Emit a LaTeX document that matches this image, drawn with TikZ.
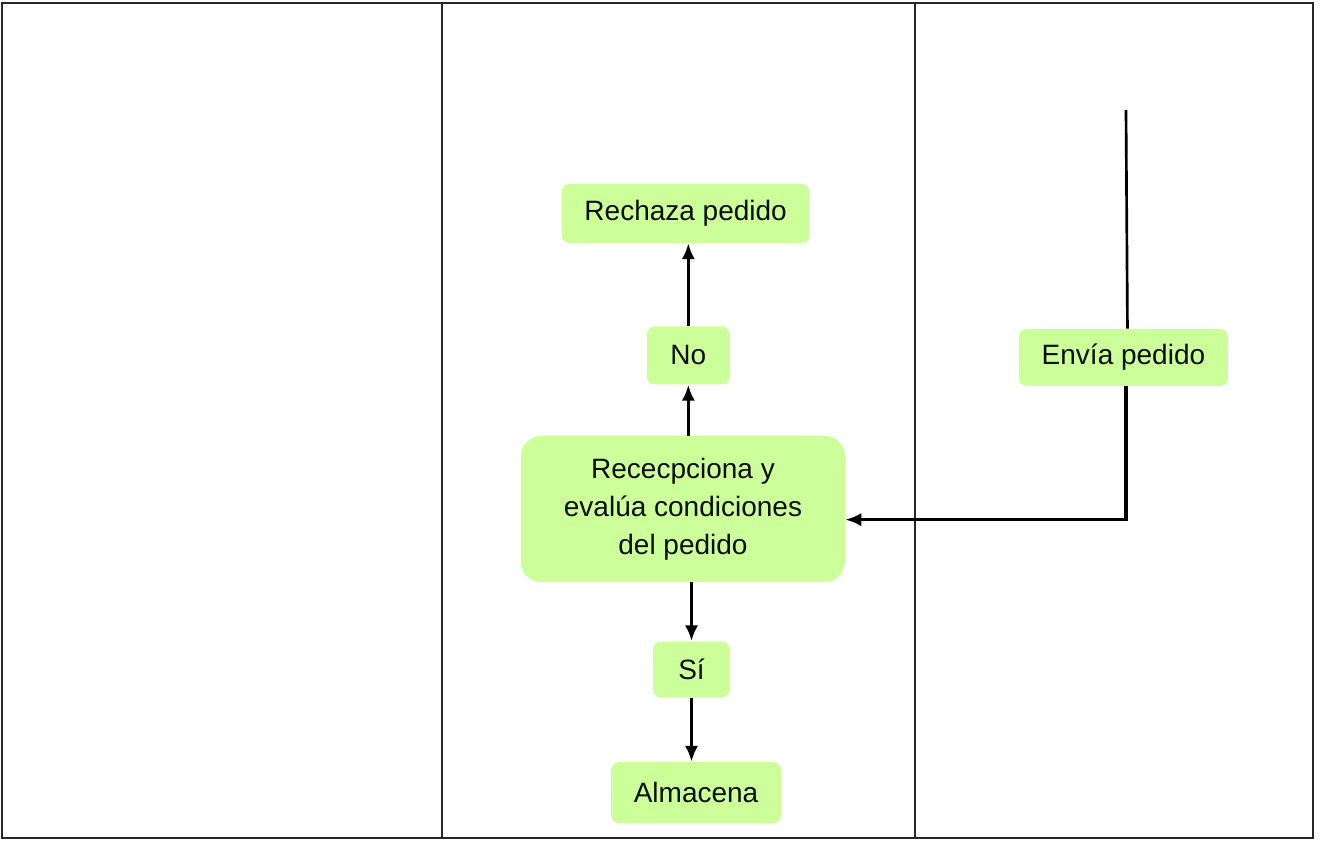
\documentclass[tikz,border=0pt]{standalone}
\usepackage{fontspec}
\setmainfont{Liberation Sans}
\usetikzlibrary{positioning, arrows.meta}
\definecolor{lightgreen}{RGB}{204,255,153}

\begin{document}
\begin{tikzpicture}[
        node distance=1cm and 2cm,
        task/.style={rectangle, fill=lightgreen, rounded corners=6pt, align=center, inner sep=2pt, text=black!95, font=\fontsize{21}{28.5}\selectfont},
        flow/.style={line width=2.6pt, -{Latex[length=12pt, width=10pt]}},
        lane/.style={draw=black!85, line width=1.3pt}
    ]
        \useasboundingbox (0,0) rectangle (991.5pt,-630.75pt);

        % Swimlanes
        \draw[lane] (1.5pt,-2.25pt) rectangle (984.75pt,-628.5pt);
        \draw[lane] (331.5pt,-2.25pt) -- (331.5pt,-628.5pt);
        \draw[lane] (686.25pt,-2.25pt) -- (686.25pt,-628.5pt);

        % Order flow
        \node[task, rounded corners=15pt, minimum width=243pt, minimum height=109.5pt] (rec) at (512.25pt,-381.75pt) {Rececpciona y\\evalúa condiciones\\del pedido};
        \node[task, minimum width=62.25pt, minimum height=43.5pt, above=38.25pt of rec, xshift=4pt] (no) {No};
        \node[task, minimum width=186pt, minimum height=44.25pt, above=62.25pt of no, xshift=-2pt] (rech) {Rechaza pedido};
        \node[task, minimum width=57.75pt, minimum height=42pt, below=44.25pt of rec, xshift=6.4pt] (si) {Sí};
        \node[task, minimum width=127.5pt, minimum height=45.75pt, below=48pt of si, xshift=3.4pt] (alm) {Almacena};
        \node[task, minimum width=156.75pt, minimum height=42.75pt] (env) at (842.6pt,-268.1pt) {Envía pedido};
        \coordinate (start) at (844.5pt,-82.5pt);

        \draw[line width=2pt] (start) -- ([xshift=3pt]env.north);
        \draw[flow] ([xshift=2pt]env.south) |- ([yshift=-8pt]rec.east);
        \draw[flow] (rec.north -| no) -- (no.south);
        \draw[flow] (no.north) -- (no.north |- rech.south);
        \draw[flow] (rec.south -| si) -- (si.north);
        \draw[flow] (si.south) -- (si.south |- alm.north);
    \end{tikzpicture}
\end{document}
